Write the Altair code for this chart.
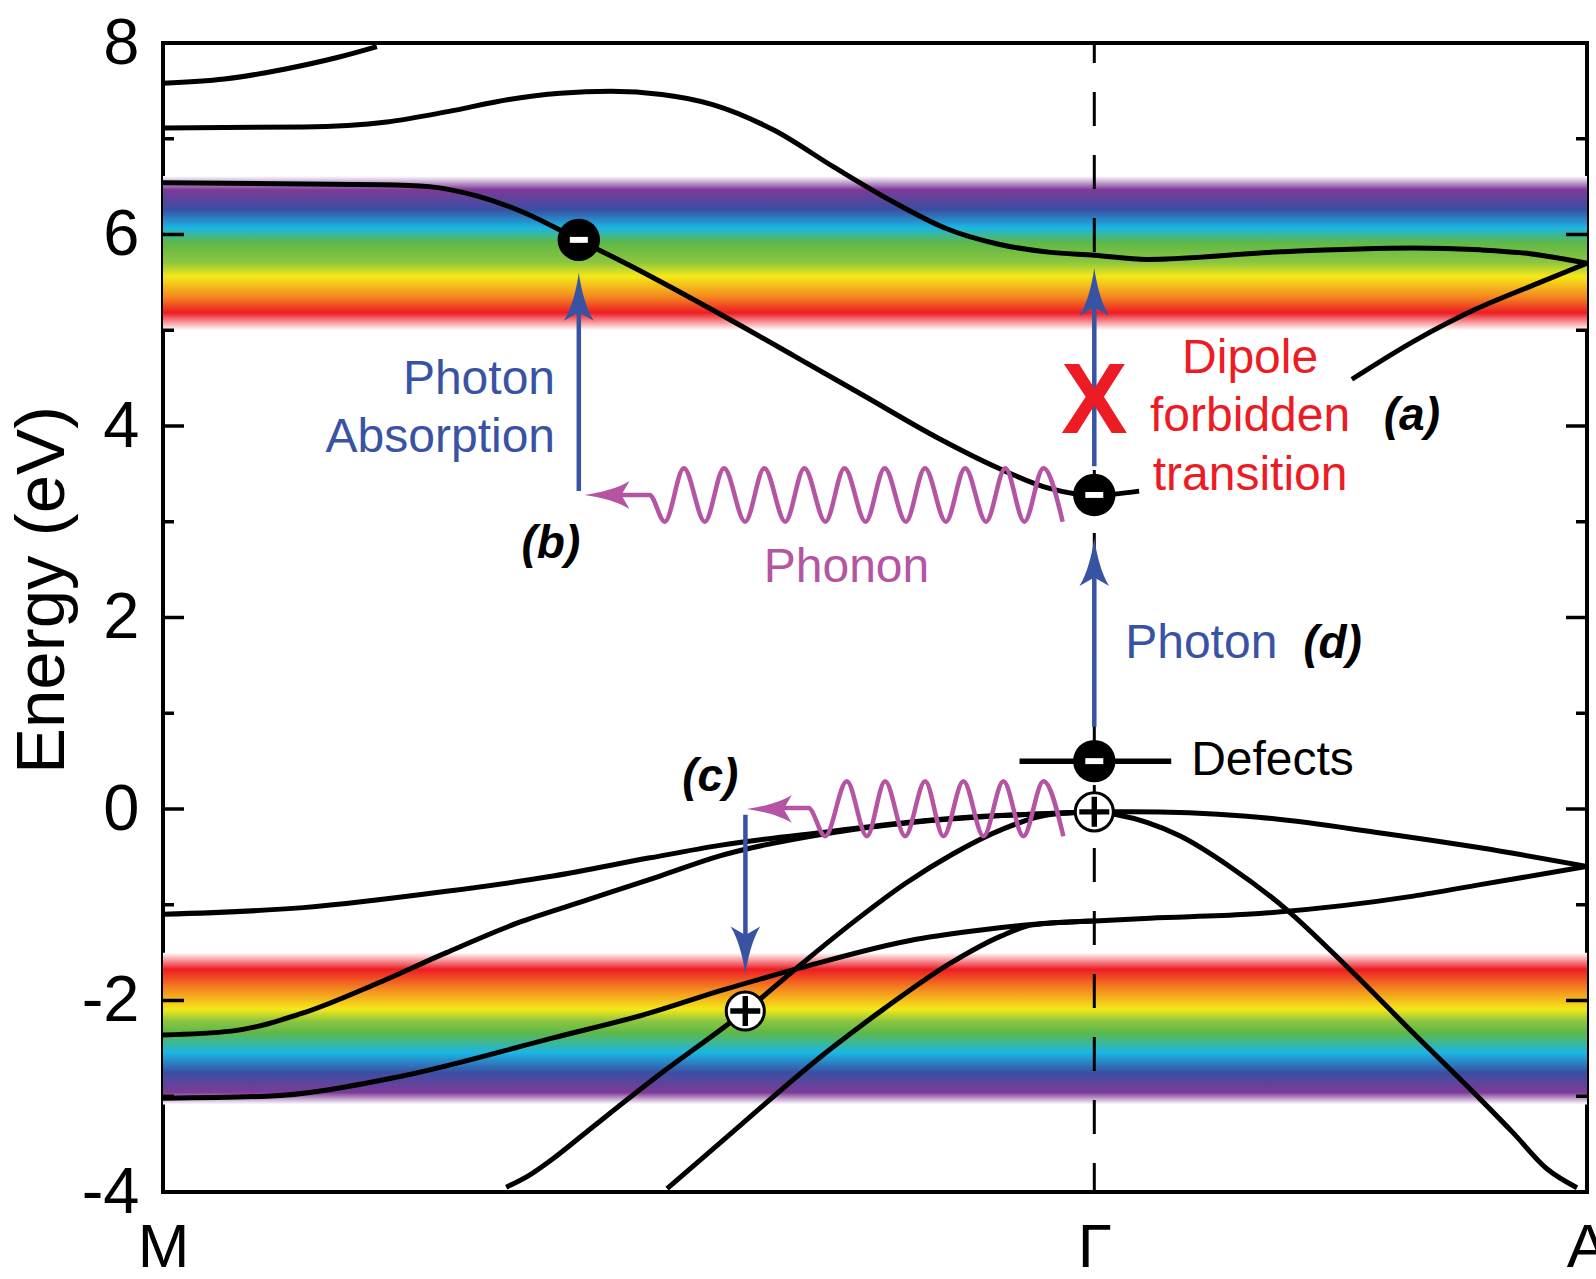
import altair as alt
import pandas as pd

FONT = "Liberation Sans"
W, H = 1424, 1149

# ---------------- data ----------------
k_labels = ["M", "Γ", "A"]
k_pos = [0.0, 0.654, 1.0]
gamma_x = [0.654]

y_major = [-4, -2, 0, 2, 4, 6, 8]
y_minor = [-3, -1, 1, 3, 5, 7]

# band structure curves: (k, E in eV)
band_c1 = [(0.0, 7.58), (0.043, 7.623), (0.086, 7.729), (0.1216, 7.846), (0.1502, 7.963)]
band_c2 = [(0.0, 7.113), (0.0986, 7.123), (0.1573, 7.176), (0.2, 7.283), (0.2429, 7.41), (0.2789, 7.474),
           (0.3146, 7.495), (0.3503, 7.463), (0.386, 7.357), (0.4289, 7.091), (0.4718, 6.698),
           (0.5146, 6.326), (0.5504, 6.06), (0.5861, 5.901), (0.6219, 5.816), (0.654, 5.784),
           (0.691, 5.74), (0.785, 5.82), (0.878, 5.86), (0.925, 5.84), (0.96, 5.8), (1.0, 5.7)]
band_c3a = [(0.0, 6.54), (0.153, 6.52), (0.187, 6.50), (0.221, 6.40), (0.255, 6.22), (0.292, 5.944),
            (0.3289, 5.668), (0.386, 5.211), (0.4431, 4.733), (0.4932, 4.308), (0.5432, 3.883),
            (0.5861, 3.564), (0.6219, 3.351), (0.654, 3.276), (0.6855, 3.32)]
band_c3b = [(0.8349, 4.488), (0.8792, 4.892), (0.922, 5.221), (0.9649, 5.487), (1.0, 5.70)]
band_v1 = [(0.0, -1.10), (0.0985, -1.03), (0.199, -0.86), (0.274, -0.70), (0.342, -0.51), (0.391, -0.38),
           (0.4685, -0.235), (0.529, -0.13), (0.576, -0.075), (0.618, -0.05), (0.654, -0.03)]
band_v2 = [(0.0, -2.36), (0.048, -2.32), (0.0985, -2.13), (0.149, -1.83), (0.199, -1.50), (0.249, -1.19),
           (0.299, -0.945), (0.349, -0.70), (0.391, -0.49), (0.4685, -0.25), (0.529, -0.135),
           (0.576, -0.08), (0.618, -0.05), (0.654, -0.03)]
band_v3 = [(0.0, -3.02), (0.073, -3.0), (0.161, -2.81), (0.274, -2.39), (0.342, -2.13), (0.391, -1.90),
           (0.4475, -1.66), (0.529, -1.36), (0.576, -1.26), (0.623, -1.19), (0.654, -1.17)]
band_v4 = [(0.241, -3.95), (0.2574, -3.823), (0.2738, -3.653), (0.2989, -3.355), (0.3489, -2.771),
           (0.3911, -2.31), (0.4089, -2.11), (0.4475, -1.63), (0.4861, -1.166), (0.5218, -0.773),
           (0.554, -0.475), (0.5897, -0.21), (0.6219, -0.061), (0.654, -0.03)]
band_v5 = [(0.354, -3.965), (0.391, -3.49), (0.4685, -2.51), (0.506, -2.09), (0.553, -1.61),
           (0.588, -1.33), (0.611, -1.21), (0.654, -1.17)]
band_r1 = [(0.654, -0.03), (0.68, -0.03), (0.761, -0.075), (0.855, -0.25), (0.925, -0.405), (1.0, -0.6)]
band_r2 = [(0.654, -0.03), (0.67, -0.06), (0.714, -0.28), (0.749, -0.6), (0.789, -1.05), (0.831, -1.64),
           (0.878, -2.34), (0.925, -3.03), (0.948, -3.38), (0.972, -3.76), (0.993, -3.955)]
band_r3 = [(0.654, -1.17), (0.693, -1.14), (0.761, -1.10), (0.878, -0.91), (0.925, -0.79), (1.0, -0.6)]

bands = {"c1": band_c1, "c2": band_c2, "c3a": band_c3a, "c3b": band_c3b, "v1": band_v1,
         "v2": band_v2, "v3": band_v3, "v4": band_v4, "v5": band_v5, "r1": band_r1,
         "r2": band_r2, "r3": band_r3}

# visible-light energy windows (eV)
upper_window = (5.0, 6.61)
lower_window = (-3.085, -1.5)
upper_stops = [("#ffffff", 0.0), ("#7E3A97", 0.088), ("#3A4FA3", 0.217), ("#1BB6E4", 0.336),
               ("#5FB847", 0.433), ("#8DC63F", 0.56), ("#F5E918", 0.65), ("#F48A20", 0.78),
               ("#ED1C24", 0.887), ("#ffffff", 1.0)]
lower_stops = [("#ffffff", 0.0), ("#ED1C24", 0.11), ("#F48A20", 0.242), ("#F5E918", 0.373),
               ("#8DC63F", 0.45), ("#5FB847", 0.527), ("#1BB6E4", 0.659), ("#3A4FA3", 0.79),
               ("#7E3A97", 0.922), ("#ffffff", 1.0)]

# phonon waves (peaks / troughs)
wave_b = [(0.318, 3.28), (0.3416, 3.28), (0.3524, 3.0), (0.3658, 3.56), (0.3805, 3.0), (0.394, 3.56),
          (0.4088, 3.0), (0.4223, 3.56), (0.437, 3.0), (0.4504, 3.56), (0.4652, 3.0), (0.4786, 3.56),
          (0.4934, 3.0), (0.5068, 3.56), (0.5217, 3.0), (0.5351, 3.56), (0.5498, 3.0), (0.5633, 3.56),
          (0.578, 3.0), (0.5915, 3.56), (0.6049, 3.0), (0.6183, 3.56), (0.6318, 3.0)]
wave_c = [(0.435, 0.01), (0.4533, 0.01), (0.465, -0.284), (0.4802, 0.29), (0.4943, -0.284),
          (0.5071, 0.29), (0.5212, -0.284), (0.5352, 0.29), (0.5481, -0.284), (0.5621, 0.29),
          (0.5762, -0.284), (0.5902, 0.29), (0.6042, -0.284), (0.6183, 0.29), (0.6323, -0.284)]

# photon arrows: x, start E, shaft end E
shafts = [(0.292, 3.32, 5.3), (0.654, 3.58, 5.35), (0.654, 0.86, 2.5), (0.409, -0.06, -1.45)]
blue_heads = [(0.292, 5.6, 0), (0.654, 5.65, 0), (0.654, 2.83, 0), (0.409, -1.728, 180)]
phonon_heads = [(0.296, 3.28, 270), (0.41, 0.0, 270)]

electrons = [(0.292, 5.944), (0.654, 3.28), (0.654, 0.5)]
holes = [(0.654, -0.03), (0.4089, -2.11)]
defect_level = [(0.6015, 0.708, 0.5)]

txt_blue = [("Photon", 0.2753, 4.33, "right"), ("Absorption", 0.2753, 3.73, "right"),
            ("Photon", 0.6757, 1.58, "left")]
txt_red = [("Dipole", 0.7634, 4.555), ("forbidden", 0.7634, 3.945), ("transition", 0.7634, 3.336)]
txt_mag = [("Phonon", 0.48, 2.373)]
txt_tags = [("(a)", 0.877, 3.96), ("(b)", 0.2724, 2.623), ("(c)", 0.3843, 0.186), ("(d)", 0.8213, 1.579)]
txt_defect = [("Defects", 0.722, 0.354)]
txt_cross = [("X", 0.654, 3.93)]
y_title = ["Energy (eV)"]

# ---------------- styling ----------------
BLUE = "#3953A4"
RED = "#ED1C24"
MAG = "#B454A3"
LW = 5

XSCALE = alt.Scale(domain=[0, 1], nice=False, zero=False)
YSCALE = alt.Scale(domain=[-4, 8], nice=False, zero=False)

lab_expr = " : ".join(
    [f"datum.value < {(k_pos[i] + k_pos[i + 1]) / 2:.4f} ? '{k_labels[i]}'" for i in range(len(k_pos) - 1)]
) + f" : '{k_labels[-1]}'"

XAX = alt.Axis(values=k_pos, labelExpr=lab_expr, ticks=False, domain=False, grid=False,
               labelFontSize=62, labelFont=FONT, labelPadding=25, labelFlush=False,
               labelOverlap=False, labelBound=False, title=None, labelColor="black")
YAX = alt.Axis(values=y_major, labelExpr="'' + datum.value", ticks=False, domain=False, grid=False,
               labelFontSize=65, labelFont=FONT, labelPadding=24, labelFlush=False,
               labelOverlap=False, title=None, labelColor="black")


def X(f):
    return alt.X(f"{f}:Q", scale=XSCALE, axis=XAX)


def Y(f):
    return alt.Y(f"{f}:Q", scale=YSCALE, axis=YAX)


def grad(stops):
    return alt.LinearGradient(gradient="linear",
                              stops=[alt.GradientStop(color=c, offset=o) for c, o in stops],
                              x1=0, x2=0, y1=0, y2=1)


layers = []

# spectral windows
for win, stops in [(upper_window, upper_stops), (lower_window, lower_stops)]:
    d = pd.DataFrame({"x": [k_pos[0]], "x2": [k_pos[-1]], "y": [win[1]], "y2": [win[0]]})
    layers.append(alt.Chart(d).mark_rect(color=grad(stops), strokeWidth=0).encode(
        x=X("x"), x2="x2:Q", y=Y("y"), y2="y2:Q"))

# Gamma dashed line
layers.append(alt.Chart(pd.DataFrame({"x": gamma_x})).mark_rule(
    color="black", strokeWidth=3, strokeDash=[34, 29], strokeDashOffset=14).encode(
    x=X("x"), y=alt.value(0), y2=alt.value(H)))

# band lines
rows = []
for name, pts in bands.items():
    for kx, e in pts:
        rows.append({"band": name, "x": kx, "y": e})
band_df = pd.DataFrame(rows)
layers.append(alt.Chart(band_df).mark_line(color="black", strokeWidth=LW, interpolate="monotone").encode(
    x=X("x"), y=Y("y"), detail="band:N"))

# defect level
dl = pd.DataFrame(defect_level, columns=["x", "x2", "y"])
layers.append(alt.Chart(dl).mark_rule(color="black", strokeWidth=5.5).encode(
    x=X("x"), x2="x2:Q", y=Y("y")))

# photon shafts
sh = pd.DataFrame(shafts, columns=["x", "y", "y2"])
layers.append(alt.Chart(sh).mark_rule(color=BLUE, strokeWidth=4.5).encode(
    x=X("x"), y=Y("y"), y2="y2:Q"))

# phonon waves
wrows = [{"w": "b", "x": a, "y": b} for a, b in wave_b] + [{"w": "c", "x": a, "y": b} for a, b in wave_c]
layers.append(alt.Chart(pd.DataFrame(wrows)).mark_line(color=MAG, strokeWidth=4.5,
                                                         interpolate="monotone").encode(
    x=X("x"), y=Y("y"), detail="w:N"))

HEAD = "M0,0 C0.05,0.35 0.15,0.75 0.31,1 L0,0.82 L-0.31,1 C-0.15,0.75 -0.05,0.35 0,0 Z"
bh = pd.DataFrame(blue_heads, columns=["x", "y", "a"])
layers.append(alt.Chart(bh).mark_point(shape=HEAD, filled=True, color=BLUE, size=9216, opacity=1,
                                       strokeWidth=0).encode(
    x=X("x"), y=Y("y"), angle=alt.Angle("a:Q", scale=None)))
ph = pd.DataFrame(phonon_heads, columns=["x", "y", "a"])
layers.append(alt.Chart(ph).mark_point(shape=HEAD, filled=True, color=MAG, size=8100, opacity=1,
                                       strokeWidth=0).encode(
    x=X("x"), y=Y("y"), angle=alt.Angle("a:Q", scale=None)))

# electrons
el = pd.DataFrame(electrons, columns=["x", "y"])
layers.append(alt.Chart(el).mark_point(shape="circle", filled=True, color="black", size=1800,
                                       opacity=1, strokeWidth=0).encode(x=X("x"), y=Y("y")))
layers.append(alt.Chart(el).mark_point(shape="M-1,-0.33H1V0.33H-1Z", filled=True, color="white",
                                       size=324, opacity=1, strokeWidth=0).encode(x=X("x"), y=Y("y")))
# holes
ho = pd.DataFrame(holes, columns=["x", "y"])
layers.append(alt.Chart(ho).mark_point(shape="circle", filled=True, fill="white", stroke="black",
                                       strokeWidth=3, size=1450, opacity=1).encode(x=X("x"), y=Y("y")))
layers.append(alt.Chart(ho).mark_point(shape="M-1,-0.18H1V0.18H-1Z M-0.18,-1H0.18V1H-0.18Z",
                                       filled=True, color="black", size=900, opacity=1,
                                       strokeWidth=0).encode(x=X("x"), y=Y("y")))

# inward ticks (left and right)
for vals, ln in [(y_major, 21), (y_minor, 11)]:
    td = pd.DataFrame({"y": vals})
    layers.append(alt.Chart(td).mark_rule(color="black", strokeWidth=3.5).encode(
        y=Y("y"), x=alt.value(0), x2=alt.value(ln)))
    layers.append(alt.Chart(td).mark_rule(color="black", strokeWidth=3.5).encode(
        y=Y("y"), x=alt.value(W), x2=alt.value(W - ln)))

# texts
tb = pd.DataFrame(txt_blue, columns=["t", "x", "y", "al"])
for al in ["right", "left"]:
    layers.append(alt.Chart(tb[tb["al"] == al]).mark_text(
        font=FONT, fontSize=48, color=BLUE, align=al, baseline="alphabetic").encode(
        x=X("x"), y=Y("y"), text="t:N"))
layers.append(alt.Chart(pd.DataFrame(txt_red, columns=["t", "x", "y"])).mark_text(
    font=FONT, fontSize=48, color=RED, align="center", baseline="alphabetic").encode(
    x=X("x"), y=Y("y"), text="t:N"))
layers.append(alt.Chart(pd.DataFrame(txt_mag, columns=["t", "x", "y"])).mark_text(
    font=FONT, fontSize=48, color=MAG, align="center", baseline="alphabetic").encode(
    x=X("x"), y=Y("y"), text="t:N"))
layers.append(alt.Chart(pd.DataFrame(txt_tags, columns=["t", "x", "y"])).mark_text(
    font=FONT, fontSize=46, color="black", fontWeight="bold", fontStyle="italic",
    align="center", baseline="alphabetic").encode(x=X("x"), y=Y("y"), text="t:N"))
layers.append(alt.Chart(pd.DataFrame(txt_defect, columns=["t", "x", "y"])).mark_text(
    font=FONT, fontSize=48, color="black", align="left", baseline="alphabetic").encode(
    x=X("x"), y=Y("y"), text="t:N"))
layers.append(alt.Chart(pd.DataFrame(txt_cross, columns=["t", "x", "y"])).mark_text(
    font=FONT, fontSize=100, fontWeight="bold", color=RED, align="center", baseline="alphabetic").encode(
    x=X("x"), y=Y("y"), text="t:N"))

# y-axis title
layers.append(alt.Chart(pd.DataFrame({"t": y_title})).mark_text(
    font=FONT, fontSize=69, color="black", angle=270, align="center", baseline="alphabetic").encode(
    x=alt.value(-99), y=alt.value(547), text="t:N"))

chart = alt.layer(*layers).properties(
    width=W, height=H,
    padding={"left": 163, "top": 43, "right": 9, "bottom": 87},
    autosize=alt.AutoSizeParams(type="none"),
    background="white",
).configure_view(stroke="black", strokeWidth=4)

chart.save("out.html", embed_options={"renderer": "svg", "actions": False})
